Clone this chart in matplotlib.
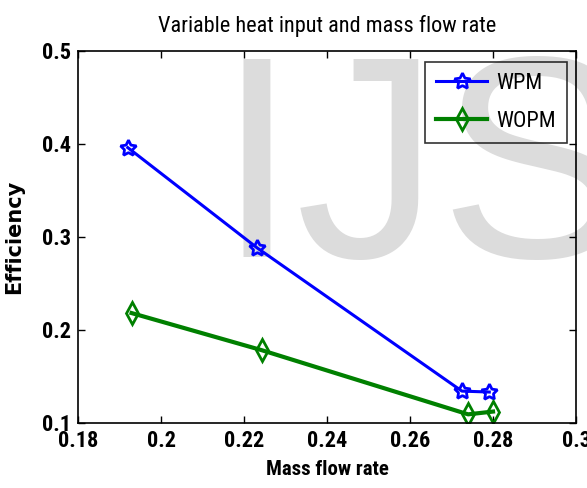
import numpy as np
import matplotlib.pyplot as plt

# Valeurs
debit_wpm = [0.192, 0.2232, 0.2725, 0.2791]
eff_wpm = [0.396, 0.288, 0.134, 0.133]
debit_wopm = [0.1929, 0.2243, 0.274, 0.280]
eff_wopm = [0.218, 0.178, 0.109, 0.112]

xticks = [0.18, 0.2, 0.22, 0.24, 0.26, 0.28, 0.3]
xlabels = ["0.18", "0.2", "0.22", "0.24", "0.26", "0.28", "0.3"]
yticks = [0.1, 0.2, 0.3, 0.4, 0.5]
ylabels = ["0.1", "0.2", "0.3", "0.4", "0.5"]

narrow = ['Roboto Condensed', 'DejaVu Sans']

fig = plt.figure(figsize=(5.87, 4.88), dpi=100)
fig.patch.set_facecolor('white')
ax = fig.add_axes([0.1329, 0.1338, 0.8484, 0.7617])
ax.set_facecolor('none')

# filigrane
fig.text(0.368, 0.4734, "IJS", fontsize=207, color='#dcdcdc',
         family='Liberation Sans', ha='left', va='baseline', zorder=-1)

ax.plot(debit_wpm, eff_wpm, color='blue', lw=2.2, marker=(5, 1, 0), ms=12,
        mfc='none', mec='blue', mew=2, label='WPM')
ax.plot(debit_wopm, eff_wopm, color='green', lw=3, marker='d', ms=11,
        mfc='none', mec='green', mew=2, label='WOPM')

ax.set_xlim(0.18, 0.3)
ax.set_ylim(0.1, 0.5)
ax.set_xticks(xticks)
ax.set_xticklabels(xlabels, family=narrow, fontsize=16, fontweight='bold')
ax.set_yticks(yticks)
ax.set_yticklabels(ylabels, family=narrow, fontsize=16, fontweight='bold')
ax.tick_params(direction='in', top=True, right=True, length=5, width=1, pad=5)
for s in ax.spines.values():
    s.set_linewidth(1.2)

ax.set_title("Variable heat input and mass flow rate", family=narrow,
             fontsize=16, pad=14)
ax.set_xlabel("Mass flow rate", family=narrow, fontsize=15, fontweight='bold',
              labelpad=6)
ax.set_ylabel("Efficiency", family='DejaVu Sans', fontsize=15,
              fontweight='bold', labelpad=13)

leg = ax.legend(loc='upper right', prop={'family': narrow, 'size': 16},
                frameon=True, fancybox=False, edgecolor='black',
                facecolor='none', borderpad=0.5, handlelength=2.3,
                handletextpad=0.4, labelspacing=0.75, borderaxespad=0,
                bbox_to_anchor=(0.982, 0.970))
leg.get_frame().set_linewidth(1.2)

plt.savefig('out.png', dpi=100)
